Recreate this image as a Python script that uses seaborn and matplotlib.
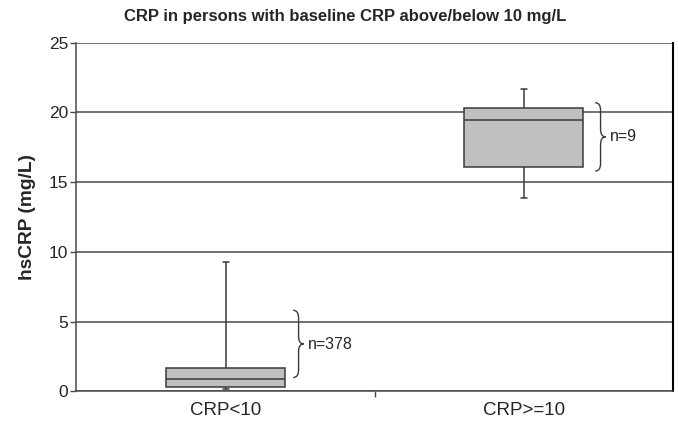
import matplotlib
matplotlib.use('Agg')
import matplotlib.pyplot as plt
from matplotlib.path import Path
from matplotlib.patches import PathPatch
import pandas as pd
import seaborn as sns

# Box statistics: min, Q1, median, Q3, max
groups = ['CRP<10', 'CRP>=10']
low_group = [0.2, 0.35, 0.9, 1.66, 9.28]
high_group = [13.85, 16.07, 19.46, 20.34, 21.68]
n_labels = ['n=378', 'n=9']
yticks = [0, 5, 10, 15, 20, 25]

# five values per group -> quartiles land exactly on them
df = pd.DataFrame({
    'group': [groups[0]] * len(low_group) + [groups[1]] * len(high_group),
    'value': low_group + high_group,
})

sns.set_style('white')
plt.rcParams['font.family'] = ['Liberation Sans', 'DejaVu Sans']

fig = plt.figure(figsize=(6.78, 4.22), dpi=100)
ax = fig.add_axes([0.1128, 0.0723, 0.8794, 0.8265])

sns.boxplot(data=df, x='group', y='value', order=groups, whis=(0, 100),
            width=0.4, color='#c0c0c0', saturation=1, linecolor='#3a3a3a',
            linewidth=1.1, showfliers=False, capwidths=0.02, ax=ax)

ax.set_xlim(-0.5, 1.5)
ax.set_ylim(0, 25)
ax.set_yticks(yticks)
ax.yaxis.grid(True, color='#4a4a4a', linewidth=1.1)
ax.set_axisbelow(True)

for side in ['left', 'bottom']:
    ax.spines[side].set_color('#4a4a4a')
    ax.spines[side].set_linewidth(1.1)
ax.spines['right'].set_color('black')
ax.spines['right'].set_linewidth(1.5)
ax.spines['top'].set_visible(False)

ax.tick_params(axis='y', left=True, length=4, width=1, color='#4a4a4a',
               labelsize=12.5, pad=2)
ax.tick_params(axis='x', bottom=False, labelsize=13.5, pad=4)
ax.set_xticks([0.5], minor=True)
ax.tick_params(axis='x', which='minor', bottom=True, length=4, width=1,
               color='#4a4a4a')

ax.set_xlabel('')
ax.set_ylabel('hsCRP (mg/L)', fontsize=13.8, fontweight='bold', labelpad=9)
fig.suptitle('CRP in persons with baseline CRP above/below 10 mg/L',
             fontsize=12, fontweight='bold', x=0.509, y=0.978)


def brace(x_curl, x_v, x_pt, y0, y1, r):
    ym = (y0 + y1) / 2
    verts = [(x_curl, y0), (x_v, y0), (x_v, y0 + r),
             (x_v, ym - r), (x_v, ym), (x_pt, ym),
             (x_v, ym), (x_v, ym + r),
             (x_v, y1 - r), (x_v, y1), (x_curl, y1)]
    codes = [Path.MOVETO, Path.CURVE3, Path.CURVE3,
             Path.LINETO, Path.CURVE3, Path.CURVE3,
             Path.CURVE3, Path.CURVE3,
             Path.LINETO, Path.CURVE3, Path.CURVE3]
    ax.add_patch(PathPatch(Path(verts, codes), fill=False,
                           edgecolor='#3a3a3a', linewidth=1.0))


brace(0.227, 0.245, 0.262, 1.0, 5.82, 0.55)
brace(1.240, 1.258, 1.275, 15.8, 20.7, 0.55)
ax.text(0.275, 3.4, n_labels[0], fontsize=11.5, va='center', ha='left')
ax.text(1.288, 18.25, n_labels[1], fontsize=11.5, va='center', ha='left')

fig.savefig('out.png', dpi=100)
